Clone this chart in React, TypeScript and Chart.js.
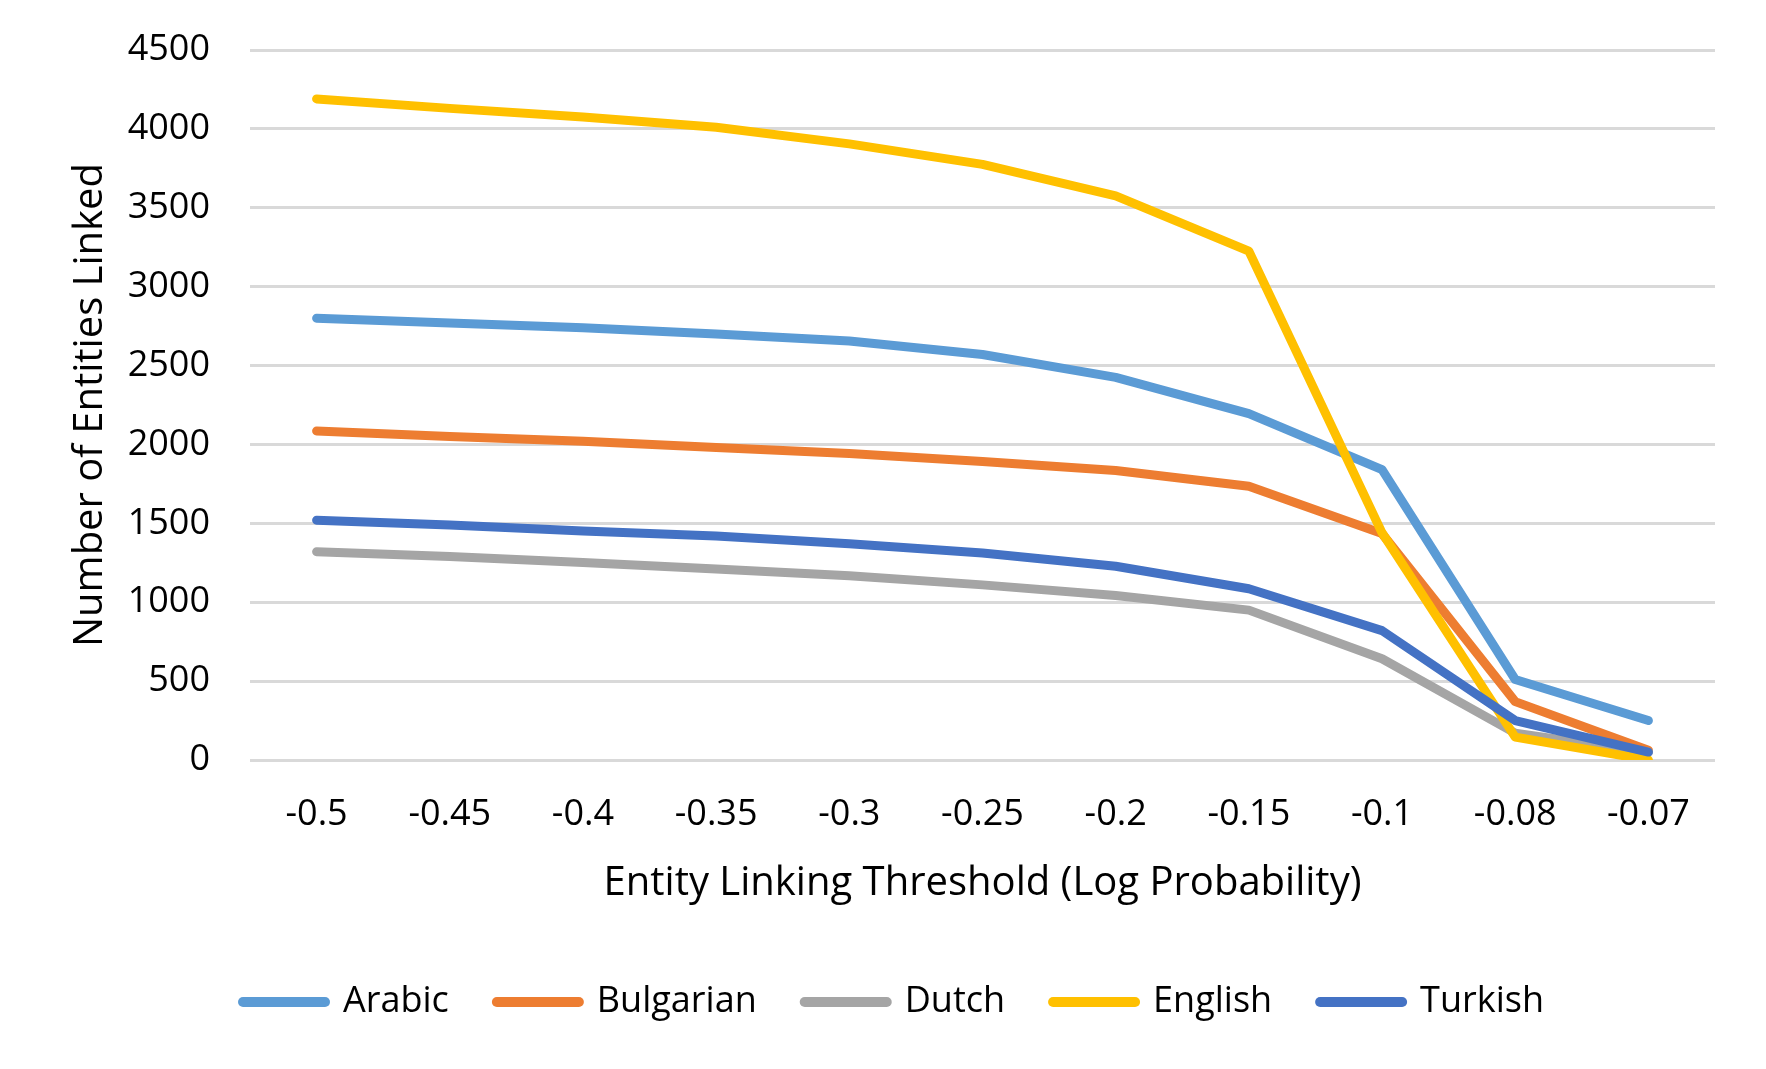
import React, { useEffect, useRef } from "react";
import { Chart, registerables } from "chart.js";

Chart.register(...registerables);

const categories = ["-0.5", "-0.45", "-0.4", "-0.35", "-0.3", "-0.25", "-0.2", "-0.15", "-0.1", "-0.08", "-0.07"];

const arabic = [2800, 2770, 2740, 2700, 2655, 2570, 2425, 2195, 1840, 510, 250];
const bulgarian = [2085, 2050, 2020, 1980, 1942, 1892, 1835, 1735, 1435, 370, 62];
const dutch = [1320, 1290, 1252, 1210, 1168, 1110, 1042, 950, 642, 170, 50];
const english = [4190, 4130, 4075, 4010, 3905, 3775, 3575, 3225, 1440, 145, 0];
const turkish = [1520, 1490, 1452, 1420, 1370, 1312, 1228, 1085, 820, 250, 50];

const seriesNames = ["Arabic", "Bulgarian", "Dutch", "English", "Turkish"];
const seriesColors = ["#5B9BD5", "#ED7D31", "#A5A5A5", "#FFC000", "#4472C4"];

const yTicks = [0, 500, 1000, 1500, 2000, 2500, 3000, 3500, 4000, 4500];

const FONT = "'Open Sans', 'Noto Sans', sans-serif";

const legendShift = {
  id: "legendShift",
  afterLayout(chart: any) {
    if (chart.legend) {
      chart.legend.left += 36;
      chart.legend.right += 36;
    }
  },
};

export default function App() {
  const canvasRef = useRef<HTMLCanvasElement | null>(null);

  useEffect(() => {
    document.body.style.margin = "0";
    const canvas = canvasRef.current;
    if (!canvas) return;
    const values = [arabic, bulgarian, dutch, english, turkish];
    const chart = new Chart(canvas, {
      type: "line",
      data: {
        labels: categories,
        datasets: seriesNames.map((name, i) => ({
          label: name,
          data: values[i],
          borderColor: seriesColors[i],
          backgroundColor: seriesColors[i],
          borderWidth: 9,
          borderJoinStyle: "round" as const,
          borderCapStyle: "round" as const,
          pointRadius: 0,
          tension: 0,
          fill: false,
          order: seriesNames.length - i,
        })),
      },
      plugins: [legendShift],
      options: {
        animation: false,
        responsive: false,
        devicePixelRatio: 1,
        layout: { padding: { top: 50, right: 51, bottom: 39, left: 0 } },
        plugins: {
          tooltip: { enabled: false },
          legend: {
            position: "bottom",
            labels: {
              font: { family: FONT, size: 36 },
              color: "#000",
              usePointStyle: true,
              pointStyle: "line",
              pointStyleWidth: 82,
              padding: 48,
              sort: (a: any, b: any) => a.datasetIndex - b.datasetIndex,
              generateLabels: (c: any) =>
                Chart.defaults.plugins.legend.labels.generateLabels(c).map((it: any) => ({
                  ...it,
                  lineWidth: 10,
                  lineCap: "round",
                  pointStyle: "line",
                })),
            },
          },
        },
        scales: {
          x: {
            type: "category",
            offset: true,
            grid: { display: false, drawTicks: false },
            border: { display: false },
            ticks: {
              font: { family: FONT, size: 36 },
              color: "#000",
              padding: 33,
              maxRotation: 0,
              autoSkip: false,
            },
            title: {
              display: true,
              text: "Entity Linking Threshold (Log Probability)",
              font: { family: FONT, size: 40 },
              color: "#000",
              padding: { top: 0, bottom: 28 },
            },
            afterFit: (scale: any) => {
              scale.height = 176;
              scale.paddingLeft = 0;
              scale.paddingRight = 0;
            },
          },
          y: {
            min: 0,
            max: 4500,
            afterBuildTicks: (scale: any) => {
              scale.ticks = yTicks.map((v) => ({ value: v }));
            },
            grid: { color: "#D9D9D9", lineWidth: 3, drawTicks: false },
            border: { display: false },
            ticks: {
              font: { family: FONT, size: 36 },
              color: "#000",
              padding: 40,
              callback: (v: any) => String(v),
            },
            title: {
              display: true,
              text: "Number of Entities Linked",
              font: { family: FONT, size: 40 },
              color: "#000",
              padding: { top: 67, bottom: 0 },
            },
            afterFit: (scale: any) => {
              scale.width = 250;
              scale.paddingTop = 0;
              scale.paddingBottom = 0;
            },
          },
        },
      },
    });
    return () => chart.destroy();
  }, []);

  return (
    <div style={{ width: 1766, height: 1069, background: "#fff" }}>
      <canvas ref={canvasRef} width={1766} height={1069} style={{ display: "block" }} />
    </div>
  );
}
